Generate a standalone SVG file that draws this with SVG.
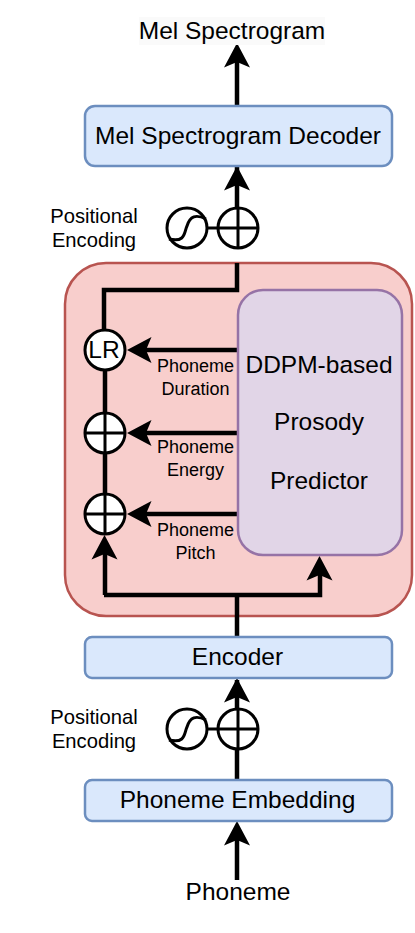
<svg xmlns="http://www.w3.org/2000/svg" width="415" height="933" viewBox="0 0 415 933">
<style>
text{font-family:"Liberation Sans",Arial,sans-serif;fill:#000;text-anchor:middle}
.t{font-size:24.5px}.s{font-size:18px}.p{font-size:20.2px}.b{fill:#dae8fc;stroke:#6c8ebf;stroke-width:2.5}
.c{fill:#fff;stroke:#000;stroke-width:3}.th{fill:none;stroke:#000;stroke-width:3}
.w{fill:none;stroke:#000;stroke-width:4.5}
</style>
<defs><path id="h" d="M0 0L-24.500 -13L-19 0L-24.500 13Z" fill="#000"/></defs>
<rect width="415" height="933" fill="#fff"/>
<g id="prosody-group"><rect x="65" y="263" width="347" height="353" rx="41" fill="#f8cecc" stroke="#b85450" stroke-width="2.5"/></g>
<g id="connectors">
<path class="w" d="M237 780V680M237 637V595H104M104 595H320V570M105 544V595M237 263V290H104V330M105 370V413M105 453V494M237 166V208M237 106V60M237 880V840M238 350H140M238 433H140M238 514H140"/>
<use href="#h" transform="translate(237 43) rotate(-90)"/>
<use href="#h" transform="translate(237 166) rotate(-90)"/>
<use href="#h" transform="translate(237 678) rotate(-90)"/>
<use href="#h" transform="translate(237 821) rotate(-90)"/>
<use href="#h" transform="translate(127 350) rotate(180)"/>
<use href="#h" transform="translate(127 433) rotate(180)"/>
<use href="#h" transform="translate(127 514) rotate(180)"/>
<use href="#h" transform="translate(104.500 535) rotate(-90)"/>
<use href="#h" transform="translate(319.500 556) rotate(-90)"/>
</g>
<g id="predictor"><rect x="238" y="290" width="164" height="265" rx="25" fill="#e1d5e7" stroke="#9673a6" stroke-width="2.5"/>
<text class="t" x="319" y="373">DDPM-based</text><text class="t" x="319" y="430">Prosody</text><text class="t" x="319" y="489">Predictor</text></g>
<g id="label-output"><rect x="139" y="17" width="186" height="28" fill="#fafafa"/><text class="t" x="232" y="39">Mel Spectrogram</text></g>
<g id="decoder"><rect class="b" x="85" y="106" width="307" height="60" rx="10"/><text class="t" x="238" y="144">Mel Spectrogram Decoder</text></g>
<g id="encoder"><rect class="b" x="85" y="637" width="307" height="41" rx="7"/><text class="t" x="237.500" y="665">Encoder</text></g>
<g id="embedding"><rect class="b" x="85" y="780" width="307" height="41" rx="7"/><text class="t" x="237.500" y="808">Phoneme Embedding</text></g>
<g id="label-input"><text class="t" x="238" y="900">Phoneme</text></g>
<g id="pe-top"><text class="p" x="94" y="223">Positional</text><text class="p" x="94" y="247">Encoding</text>
<circle class="c" cx="187" cy="228" r="20"/><path class="th" d="M169 239C186 243 184 232 187 226C190 216 196 214 206 219"/>
<path class="th" d="M207 228H218"/>
<circle class="c" cx="238" cy="228" r="20"/><path class="th" d="M218 228H258M238 208V248"/></g>
<g id="pe-bottom"><text class="p" x="94" y="724">Positional</text><text class="p" x="94" y="748">Encoding</text>
<circle class="c" cx="187" cy="729" r="20"/><path class="th" d="M169 740C186 744 184 733 187 727C190 717 196 715 206 720"/>
<path class="th" d="M207 729H218"/>
<circle class="c" cx="238" cy="729" r="20"/><path class="th" d="M218 729H258M238 709V749"/></g>
<g id="lr"><circle class="c" cx="105" cy="350" r="20"/><text class="t" x="104" y="358">LR</text></g>
<g id="add-energy"><circle class="c" cx="105" cy="433" r="20"/><path class="th" d="M85 433H125M105 413V453"/></g>
<g id="add-pitch"><circle class="c" cx="105" cy="514" r="20"/><path class="th" d="M85 514H125M105 494V534"/></g>
<g id="labels"><text class="s" x="195.500" y="372">Phoneme</text><text class="s" x="195.500" y="395">Duration</text>
<text class="s" x="195.500" y="453">Phoneme</text><text class="s" x="195.500" y="476">Energy</text>
<text class="s" x="195.500" y="536">Phoneme</text><text class="s" x="195.500" y="559">Pitch</text></g>
</svg>
